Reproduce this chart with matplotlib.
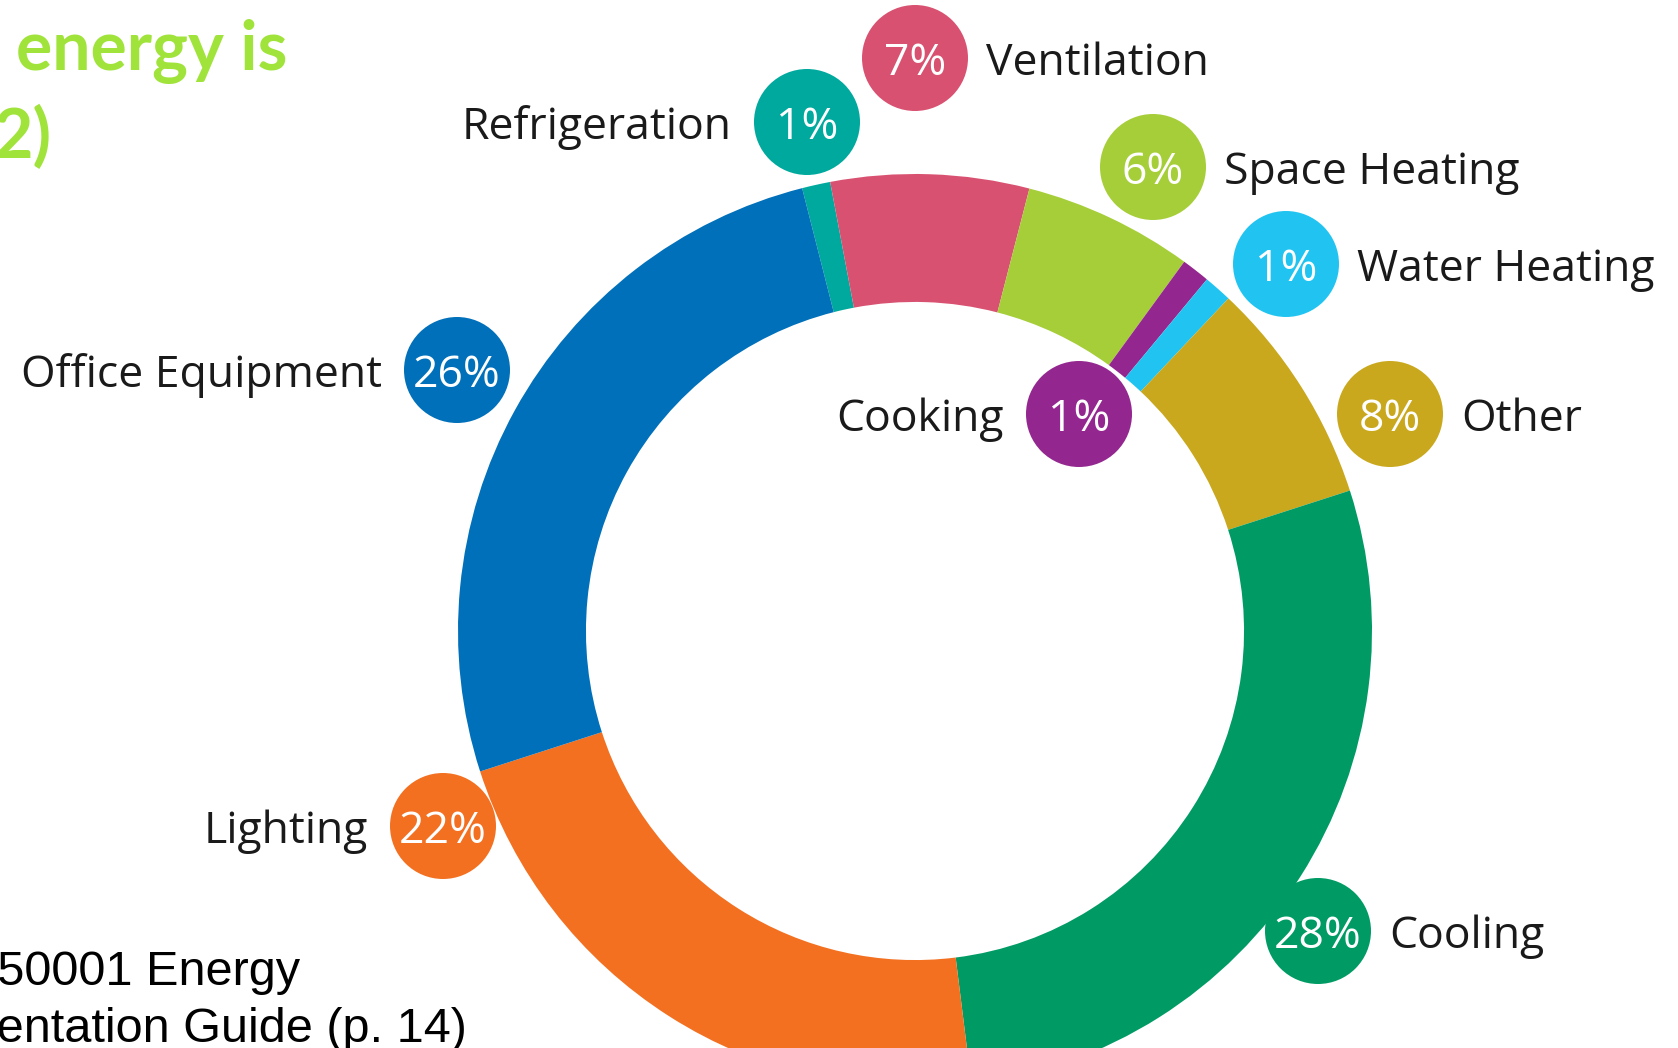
import matplotlib.pyplot as plt
from matplotlib.patches import Circle

# energy use breakdown, clockwise from the top
uses = ["Refrigeration", "Ventilation", "Space Heating", "Cooking", "Water Heating",
        "Other", "Cooling", "Lighting", "Office Equipment"]
shares = [1, 7, 6, 1, 1, 8, 28, 22, 26]
colors = ["#00A99D", "#D95171", "#A6CE39", "#93278F", "#21C4F1",
          "#C9A81E", "#009B65", "#F37021", "#0070BA"]

# bubble layout (pixel coords, y from top) and which side the name goes
bubble_xy = [(807, 122), (915, 58), (1153, 167), (1079, 414), (1286, 264),
             (1390, 414), (1318, 931), (443, 826), (457, 370)]
name_side = ["left", "right", "right", "left", "right", "right", "right", "left", "left"]

W, H = 1678, 1048
def Y(y):
    return H - y

fig = plt.figure(figsize=(W / 100, H / 100), dpi=100)
ax = fig.add_axes([0, 0, 1, 1])

R = 457
ax.pie(shares, colors=colors, startangle=104.3, counterclock=False,
       radius=R, center=(915, Y(631)),
       wedgeprops=dict(width=R * 0.28, linewidth=0, antialiased=True))

ax.set_xlim(0, W)
ax.set_ylim(0, H)
ax.set_aspect("equal")
ax.axis("off")

font = "Open Sans"
br = 53
for name, v, c, (bx, by), side in zip(uses, shares, colors, bubble_xy, name_side):
    ax.add_patch(Circle((bx, Y(by)), br, facecolor=c, edgecolor="none", zorder=3))
    ax.text(bx, Y(by) - 17, f"{v}%", color="white", fontsize=32, family=font,
            ha="center", va="baseline", zorder=4)
    if side == "left":
        ax.text(bx - br - 22, Y(by) - 17, name, color="#1a1a1a", fontsize=32,
                family=font, ha="right", va="baseline", zorder=4)
    else:
        ax.text(bx + br + 18, Y(by) - 17, name, color="#1a1a1a", fontsize=32,
                family=font, ha="left", va="baseline", zorder=4)

# clipped slide title and source note
green = "#A0E33A"
ax.text(16, Y(70), "energy is", color=green, fontsize=49, family="Lato",
        fontweight="bold", ha="left", va="baseline")
ax.text(52, Y(158), "2)", color=green, fontsize=49, family="Lato",
        fontweight="bold", ha="right", va="baseline")

ax.text(300, Y(985), "ISO 50001 Energy", color="black", fontsize=35,
        family="Liberation Sans", ha="right", va="baseline")
ax.text(467, Y(1042), "Implementation Guide (p. 14)", color="black", fontsize=35,
        family="Liberation Sans", ha="right", va="baseline")

fig.savefig("out.png", dpi=100, facecolor="white")
